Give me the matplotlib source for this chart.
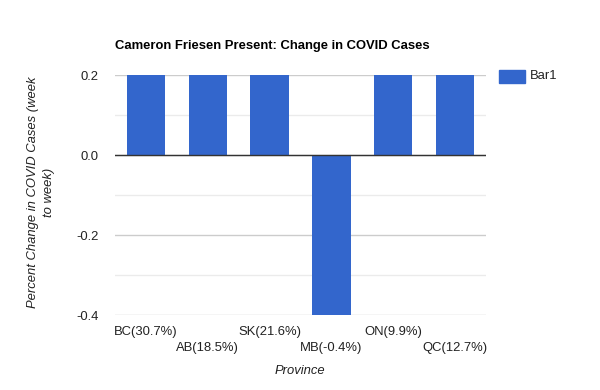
import matplotlib
matplotlib.use("Agg")
import matplotlib.pyplot as plt

# provinces and their week-to-week change
provinces = ["BC(30.7%)", "AB(18.5%)", "SK(21.6%)", "MB(-0.4%)", "ON(9.9%)", "QC(12.7%)"]
bar1 = [0.2, 0.2, 0.2, -0.4, 0.2, 0.2]
yticks = [-0.4, -0.2, 0.0, 0.2]
ytick_labels = ["-0.4", "-0.2", "0.0", "0.2"]
minor_ticks = [-0.3, -0.1, 0.1]

plt.rcParams["font.family"] = ["Liberation Sans", "DejaVu Sans"]
fs = 9.4
blue = "#3366cc"

fig = plt.figure(figsize=(6, 3.9), dpi=100)
ax = fig.add_axes([115 / 600, 1 - 315 / 390, 371 / 600, 240 / 390])

x = list(range(len(provinces)))
ax.bar(x, bar1, width=0.62, color=blue, zorder=3)
ax.set_xlim(-0.5, len(provinces) - 0.5)
ax.set_ylim(-0.4, 0.2)

# gridlines
for t in yticks + minor_ticks:
    ax.axhline(t, color="#cccccc" if t in yticks else "#ebebeb", lw=1, zorder=1)
ax.axhline(0, color="#333333", lw=1, zorder=4)

ax.set_yticks(yticks)
ax.set_yticklabels(ytick_labels, fontsize=fs, color="#222222")
ax.tick_params(axis="y", length=0, pad=12)
ax.set_xticks([])
for s in ax.spines.values():
    s.set_visible(False)

# staggered category labels
for i, lab in enumerate(provinces):
    yoff = -8 if i % 2 == 0 else -19.5
    ax.annotate(lab, (i, -0.4), xytext=(0, yoff), textcoords="offset points",
                ha="center", va="top", fontsize=fs, color="#222222",
                annotation_clip=False)

fig.text(300 / 600, 1 - 371 / 390, "Province", ha="center", va="center",
         fontsize=fs, style="italic", color="#222222")
fig.text(41 / 600, 1 - 192 / 390, "Percent Change in COVID Cases (week\nto week)",
         ha="center", va="center", rotation=90, fontsize=fs, style="italic",
         color="#222222", linespacing=1.45)
fig.text(115 / 600, 1 - 46 / 390, "Cameron Friesen Present: Change in COVID Cases",
         ha="left", va="center", fontsize=fs, fontweight="bold", color="#000000")

# legend
fig.patches.append(plt.Rectangle((499 / 600, 1 - 83 / 390), 26 / 600, 13 / 390,
                                 transform=fig.transFigure, color=blue, figure=fig))
fig.text(530 / 600, 1 - 76 / 390, "Bar1", ha="left", va="center",
         fontsize=fs, color="#222222")

fig.savefig("out.png", dpi=100)
